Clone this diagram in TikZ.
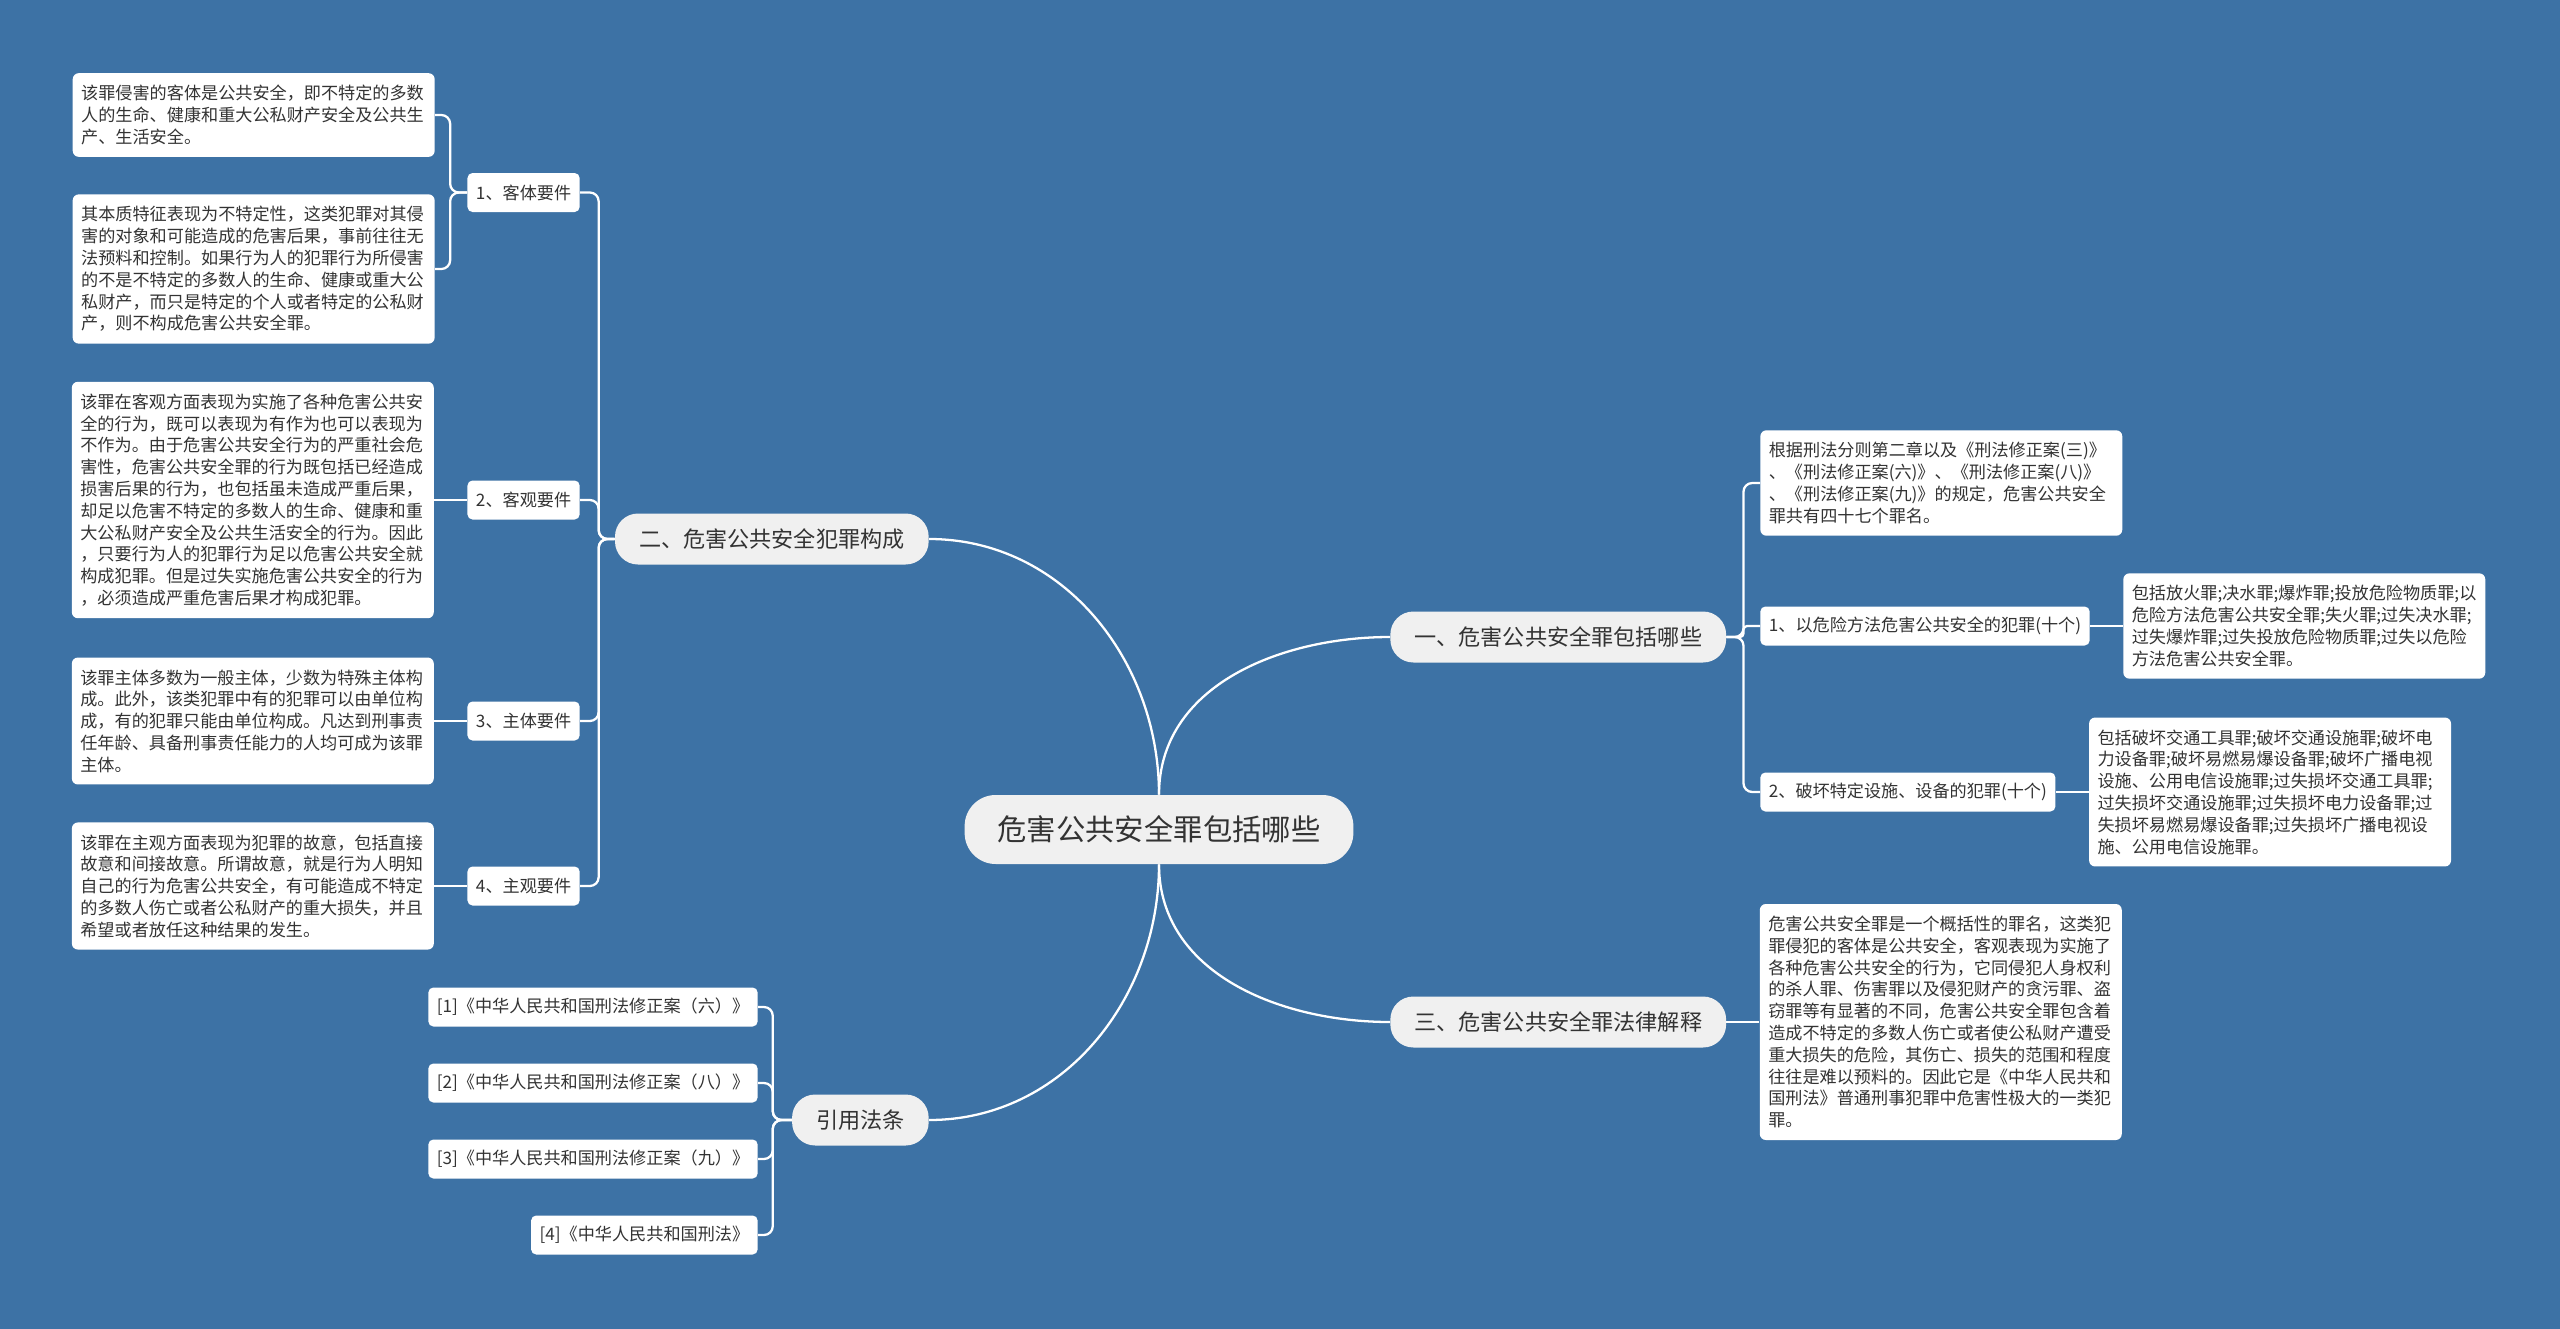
\documentclass[tikz,border=0pt]{standalone}
\usepackage{fontspec}
\setmainfont{Noto Sans CJK SC}
\usepackage{tikz}
\usetikzlibrary{positioning}
\definecolor{map-bg}{HTML}{3D72A5}
\definecolor{map-topic}{HTML}{F0F0F0}
\definecolor{map-text}{HTML}{333333}

\begin{document}
\begin{tikzpicture}[x=0.02cm, y=-0.02cm, node distance=0.66cm,
    root/.style={fill=map-topic, text=map-text, rounded corners=0.62cm,
      minimum height=1.38cm, inner xsep=0.66cm, font=\fontsize{16.7pt}{20pt}\selectfont},
    topic/.style={fill=map-topic, text=map-text, rounded corners=0.46cm,
      minimum height=1.02cm, inner xsep=0.48cm, font=\fontsize{12.6pt}{15pt}\selectfont},
    sub/.style={fill=white, text=map-text, rounded corners=0.1cm,
      minimum height=0.78cm, inner xsep=0.17cm, font=\fontsize{9.75pt}{12.4pt}\selectfont},
    leaf/.style={fill=white, text=map-text, rounded corners=0.12cm, align=left,
      text width=6.9cm, inner xsep=0.17cm, inner ysep=0.24cm,
      font=\fontsize{9.75pt}{12.4pt}\selectfont},
    link/.style={draw=white, line width=1.3pt, rounded corners=5pt}]

    \fill[map-bg] (0,0) rectangle (2560,1329);

    % centre and main topics
    \node[root] (root) at (1159,829.5) {危害公共安全罪包括哪些};
    \node[topic, anchor=east] (jg) at (929,539) {二、危害公共安全犯罪构成};
    \node[topic, anchor=west] (bk) at (1390,637) {一、危害公共安全罪包括哪些};
    \node[topic, anchor=west] (js) at (1390,1022) {三、危害公共安全罪法律解释};
    \node[topic, anchor=east] (yy) at (929,1120) {引用法条};

    % left: 构成
    \node[sub, anchor=east] (kt) at (580,192.5) {1、客体要件};
    \node[sub, anchor=east] (kg) at (580,500) {2、客观要件};
    \node[sub, anchor=east] (zt) at (580,721) {3、主体要件};
    \node[sub, anchor=east] (zg) at (580,886) {4、主观要件};

    \node[leaf, anchor=east] (kta) at (435,115) {该罪侵害的客体是公共安全，即不特定的多数\\人的生命、健康和重大公私财产安全及公共生\\产、生活安全。};
    \node[leaf, anchor=east] (ktb) at (435,269) {其本质特征表现为不特定性，这类犯罪对其侵\\害的对象和可能造成的危害后果，事前往往无\\法预料和控制。如果行为人的犯罪行为所侵害\\的不是不特定的多数人的生命、健康或重大公\\私财产，而只是特定的个人或者特定的公私财\\产，则不构成危害公共安全罪。};
    \node[leaf, left=of kg] (kgt) {该罪在客观方面表现为实施了各种危害公共安\\全的行为，既可以表现为有作为也可以表现为\\不作为。由于危害公共安全行为的严重社会危\\害性，危害公共安全罪的行为既包括已经造成\\损害后果的行为，也包括虽未造成严重后果，\\却足以危害不特定的多数人的生命、健康和重\\大公私财产安全及公共生活安全的行为。因此\\，只要行为人的犯罪行为足以危害公共安全就\\构成犯罪。但是过失实施危害公共安全的行为\\，必须造成严重危害后果才构成犯罪。};
    \node[leaf, left=of zt] (ztt) {该罪主体多数为一般主体，少数为特殊主体构\\成。此外，该类犯罪中有的犯罪可以由单位构\\成，有的犯罪只能由单位构成。凡达到刑事责\\任年龄、具备刑事责任能力的人均可成为该罪\\主体。};
    \node[leaf, left=of zg] (zgt) {该罪在主观方面表现为犯罪的故意，包括直接\\故意和间接故意。所谓故意，就是行为人明知\\自己的行为危害公共安全，有可能造成不特定\\的多数人伤亡或者公私财产的重大损失，并且\\希望或者放任这种结果的发生。};

    % right: 包括哪些
    \node[leaf, anchor=west] (bkt) at (1760,483) {根据刑法分则第二章以及《刑法修正案(三)》\\、《刑法修正案(六)》、《刑法修正案(八)》\\、《刑法修正案(九)》的规定，危害公共安全\\罪共有四十七个罪名。};
    \node[sub, anchor=west] (wx) at (1760,626) {1、以危险方法危害公共安全的犯罪(十个)};
    \node[sub, anchor=west] (ph) at (1760,792) {2、破坏特定设施、设备的犯罪(十个)};
    \node[leaf, right=of wx] (wxt) {包括放火罪;决水罪;爆炸罪;投放危险物质罪;以\\危险方法危害公共安全罪;失火罪;过失决水罪;\\过失爆炸罪;过失投放危险物质罪;过失以危险\\方法危害公共安全罪。};
    \node[leaf, right=of ph] (pht) {包括破坏交通工具罪;破坏交通设施罪;破坏电\\力设备罪;破坏易燃易爆设备罪;破坏广播电视\\设施、公用电信设施罪;过失损坏交通工具罪;\\过失损坏交通设施罪;过失损坏电力设备罪;过\\失损坏易燃易爆设备罪;过失损坏广播电视设\\施、公用电信设施罪。};

    % right: 法律解释
    \node[leaf, right=of js] (jst) {危害公共安全罪是一个概括性的罪名，这类犯\\罪侵犯的客体是公共安全，客观表现为实施了\\各种危害公共安全的行为，它同侵犯人身权利\\的杀人罪、伤害罪以及侵犯财产的贪污罪、盗\\窃罪等有显著的不同，危害公共安全罪包含着\\造成不特定的多数人伤亡或者使公私财产遭受\\重大损失的危险，其伤亡、损失的范围和程度\\往往是难以预料的。因此它是《中华人民共和\\国刑法》普通刑事犯罪中危害性极大的一类犯\\罪。};

    % references
    \node[sub, anchor=east] (r1) at (758,1007) {[1]《中华人民共和国刑法修正案（六）》};
    \node[sub, anchor=east] (r2) at (758,1083) {[2]《中华人民共和国刑法修正案（八）》};
    \node[sub, anchor=east] (r3) at (758,1159) {[3]《中华人民共和国刑法修正案（九）》};
    \node[sub, anchor=east] (r4) at (758,1235) {[4]《中华人民共和国刑法》};

    % connectors
    \draw[link] (root.north) to[out=90, in=0] (jg.east);
    \draw[link] (root.north) to[out=90, in=180] (bk.west);
    \draw[link] (root.south) to[out=-90, in=180] (js.west);
    \draw[link] (root.south) to[out=-90, in=0] (yy.east);

    \foreach \c in {kt, kg, zt, zg}
        \draw[link] (jg.west) -- ++(-16,0) |- (\c.east);
    \draw[link] (kt.west) -- ++(-17,0) |- (kta.east);
    \draw[link] (kt.west) -- ++(-17,0) |- (ktb.east);
    \draw[link] (kg.west) -- (kgt.east);
    \draw[link] (zt.west) -- (ztt.east);
    \draw[link] (zg.west) -- (zgt.east);

    \draw[link] (bk.east) -- ++(17,0) |- (bkt.west);
    \draw[link, rounded corners=2pt] (bk.east) -- ++(17,0) |- (wx.west);
    \draw[link] (bk.east) -- ++(17,0) |- (ph.west);
    \draw[link] (wx.east) -- (wxt.west);
    \draw[link] (ph.east) -- (pht.west);
    \draw[link] (js.east) -- (jst.west);

    \foreach \r in {r1, r2, r3, r4}
        \draw[link] (yy.west) -- ++(-19,0) |- (\r.east);
\end{tikzpicture}
\end{document}
